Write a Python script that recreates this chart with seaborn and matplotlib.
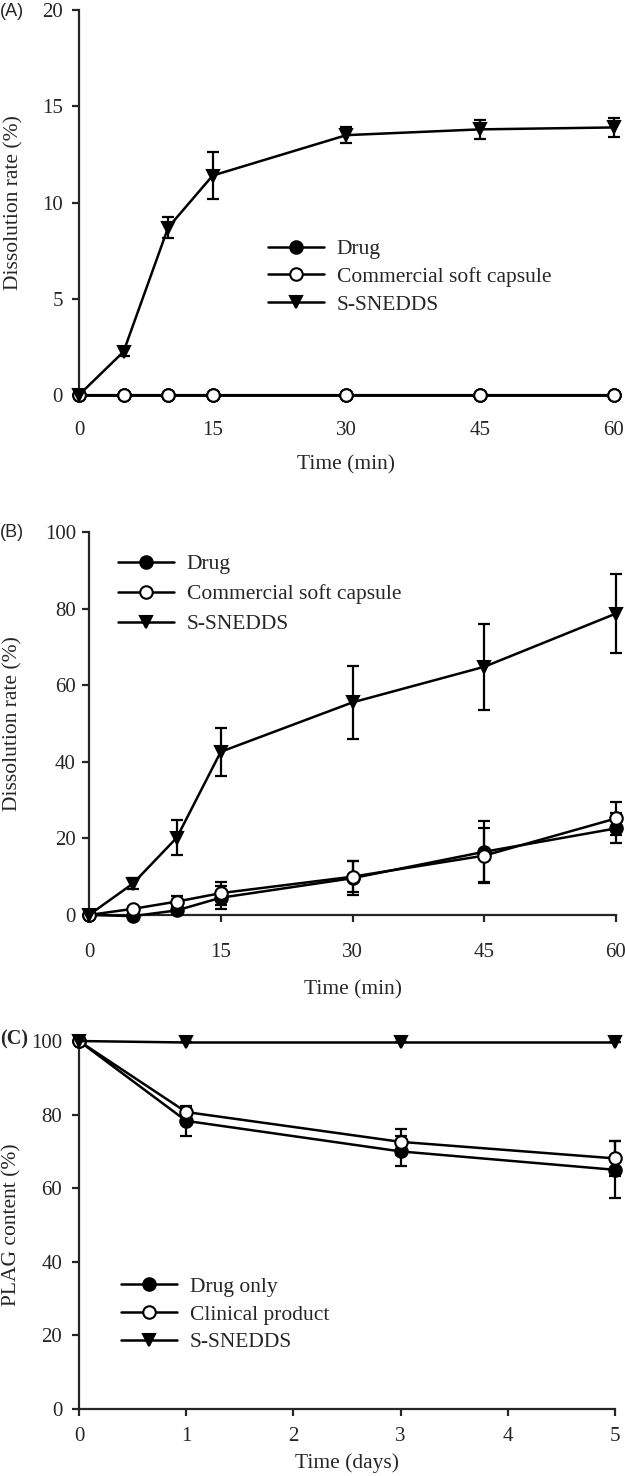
import matplotlib
matplotlib.use("Agg")
import matplotlib.pyplot as plt
import pandas as pd
import seaborn as sns

# ---- panel A: dissolution, 0-60 min ----
time_a = [0, 5, 10, 15, 30, 45, 60]
drug_a = [0, 0, 0, 0, 0, 0, 0]
drug_a_sd = [0, 0, 0, 0, 0, 0, 0]
capsule_a = [0, 0, 0, 0, 0, 0, 0]
capsule_a_sd = [0, 0, 0, 0, 0, 0, 0]
snedds_a = [0, 2.25, 8.7, 11.4, 13.5, 13.8, 13.9]
snedds_a_sd = [0, 0.2, 0.55, 1.2, 0.4, 0.5, 0.5]

# ---- panel B: dissolution, 0-60 min ----
time_b = [0, 5, 10, 15, 30, 45, 60]
drug_b = [0, -0.3, 1.2, 4.5, 9.6, 16.5, 22.6]
drug_b_sd = [0, 0, 1.0, 3.0, 4.5, 8.0, 3.9]
capsule_b = [0, 1.6, 3.5, 5.7, 10.0, 15.5, 25.2]
capsule_b_sd = [0, 0.5, 1.5, 3.0, 4.0, 7.2, 4.4]
snedds_b = [0, 8.2, 20.2, 42.6, 55.5, 64.8, 78.7]
snedds_b_sd = [0, 1.5, 4.5, 6.2, 9.5, 11.2, 10.3]

# ---- panel C: stability, days ----
time_c = [0, 1, 3, 5]
drug_c = [100, 78.3, 70.0, 65.0]
drug_c_sd = [0, 4.0, 4.1, 7.7]
clinical_c = [100, 80.7, 72.6, 68.1]
clinical_c_sd = [0, 1.5, 3.6, 4.7]
snedds_c = [100, 99.6, 99.6, 99.6]
snedds_c_sd = [0, 0, 0, 0]

sns.set_style("ticks")
plt.rcParams['font.family'] = ['Liberation Serif', 'DejaVu Serif']

fs_tick = 15
fs = 15.5
fig = plt.figure(figsize=(6.25, 14.76), dpi=100)
ax_a = fig.add_axes([0.1264, 0.7324, 0.8556, 0.2608])
ax_b = fig.add_axes([0.1424, 0.3801, 0.8432, 0.2595])
ax_c = fig.add_axes([0.1264, 0.0454, 0.8576, 0.2493])

styles = [
    dict(marker='o', markerfacecolor='black'),
    dict(marker='o', markerfacecolor='white'),
    dict(marker='v', markerfacecolor='black'),
]


def draw_panel(ax, x, series, labels, xpad, ypad):
    for (y, sd), lab, st in zip(series, labels, styles):
        ax.errorbar(x, y, yerr=sd, fmt='none', ecolor='black', elinewidth=1.6,
                    capsize=4, capthick=1.6, clip_on=False, zorder=2)
        df = pd.DataFrame({'x': x, 'y': y})
        sns.lineplot(data=df, x='x', y='y', ax=ax, color='black', linewidth=1.8,
                     marker=st['marker'], markersize=9,
                     markerfacecolor=st['markerfacecolor'],
                     markeredgecolor='black', markeredgewidth=1.5,
                     label=lab, clip_on=False, zorder=3)
    sns.despine(ax=ax)
    for s in ['left', 'bottom']:
        ax.spines[s].set_linewidth(1.6)
    ax.tick_params(axis='both', direction='out', length=5, width=1.6,
                   labelsize=fs_tick)
    ax.tick_params(axis='x', pad=xpad)
    ax.tick_params(axis='y', pad=ypad)
    ax.xaxis.label.set_va('center')
    ax.yaxis.label.set_va('center')


def add_legend(ax, x0, y0, spacing):
    ax.legend(loc='upper left', bbox_to_anchor=(x0, y0), frameon=False,
              fontsize=fs, handlelength=2.6, handletextpad=0.6,
              labelspacing=spacing, borderaxespad=0, borderpad=0)


draw_panel(ax_a, time_a,
           [(drug_a, drug_a_sd), (capsule_a, capsule_a_sd), (snedds_a, snedds_a_sd)],
           ['Drug', 'Commercial soft capsule', 'S-SNEDDS'], xpad=13.5, ypad=6.5)
ax_a.set_xlim(0, 60)
ax_a.set_ylim(0, 20)
ax_a.set_xticks([0, 15, 30, 45, 60])
ax_a.set_yticks([0, 5, 10, 15, 20])
ax_a.set_xlabel('Time (min)', fontsize=fs)
ax_a.set_ylabel('Dissolution rate (%)', fontsize=fs)
ax_a.xaxis.set_label_coords(0.5, -0.182)
ax_a.yaxis.set_label_coords(-0.1215, 0.5)
add_legend(ax_a, 0.353, 0.405, 0.36)

draw_panel(ax_b, time_b,
           [(drug_b, drug_b_sd), (capsule_b, capsule_b_sd), (snedds_b, snedds_b_sd)],
           ['Drug', 'Commercial soft capsule', 'S-SNEDDS'], xpad=15, ypad=4.5)
ax_b.set_xlim(0, 60)
ax_b.set_ylim(0, 100)
ax_b.set_xticks([0, 15, 30, 45, 60])
ax_b.set_yticks([0, 20, 40, 60, 80, 100])
ax_b.set_xlabel('Time (min)', fontsize=fs)
ax_b.set_ylabel('Dissolution rate (%)', fontsize=fs)
ax_b.xaxis.set_label_coords(0.5, -0.196)
ax_b.yaxis.set_label_coords(-0.144, 0.5)
add_legend(ax_b, 0.055, 0.942, 0.46)

draw_panel(ax_c, time_c,
           [(drug_c, drug_c_sd), (clinical_c, clinical_c_sd), (snedds_c, snedds_c_sd)],
           ['Drug only', 'Clinical product', 'S-SNEDDS'], xpad=8, ypad=7)
ax_c.set_xlim(0, 5)
ax_c.set_ylim(0, 100)
ax_c.set_xticks([0, 1, 2, 3, 4, 5])
ax_c.set_yticks([0, 20, 40, 60, 80, 100])
ax_c.set_xlabel('Time (days)', fontsize=fs)
ax_c.set_ylabel('PLAG content (%)', fontsize=fs)
ax_c.xaxis.set_label_coords(0.5, -0.147)
ax_c.yaxis.set_label_coords(-0.125, 0.5)
add_legend(ax_c, 0.078, 0.359, 0.35)

fig.text(0.0, 0.992, '(A)', fontsize=13, family='Liberation Sans', va='center')
fig.text(0.0, 0.639, '(B)', fontsize=13, family='Liberation Sans', va='center')
fig.text(0.0, 0.2955, '(C)', fontsize=14.5, family='Liberation Serif',
         weight='bold', va='center')

fig.savefig('out.png', dpi=100)
